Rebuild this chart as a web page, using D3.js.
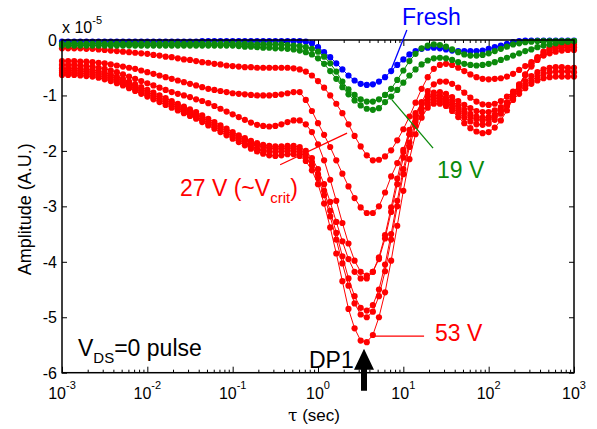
<!DOCTYPE html>
<html>
<head>
<meta charset="utf-8">
<script src="https://cdn.jsdelivr.net/npm/d3@7"></script>
<style>
  body { margin: 0; background: #fff; }
  text { font-family: "Liberation Sans", Arial, Helvetica, sans-serif; }
</style>
</head>
<body>
<svg id="chart" width="597" height="429"></svg>
<script>

// amplitudes in units of 1e-5, one value per tau sample (14 per decade, 1 ms .. 1000 s)
var fresh = [
  -0.03,-0.03,-0.03,-0.03,-0.03,-0.03,-0.03,-0.03,-0.03,-0.03,
  -0.03,-0.03,-0.03,-0.03,-0.03,-0.03,-0.03,-0.03,-0.03,-0.03,
  -0.03,-0.03,-0.03,-0.02,-0.02,-0.02,-0.02,-0.02,-0.02,-0.02,
  -0.02,-0.02,-0.02,-0.02,-0.02,-0.02,-0.02,-0.02,-0.02,-0.02,
  -0.03,-0.06,-0.13,-0.22,-0.31,-0.42,-0.53,-0.64,-0.73,-0.79,
  -0.81,-0.80,-0.75,-0.67,-0.56,-0.45,-0.35,-0.26,-0.20,-0.16,
  -0.14,-0.14,-0.15,-0.17,-0.19,-0.20,-0.20,-0.20,-0.20,-0.19,
  -0.16,-0.13,-0.10,-0.07,-0.04,-0.02,-0.01,-0.01,-0.01,-0.01,
  -0.01,-0.01,-0.01,-0.01,-0.01];

var green_a = [
  -0.07,-0.07,-0.06,-0.07,-0.07,-0.07,-0.06,-0.07,-0.07,-0.07,
  -0.07,-0.07,-0.07,-0.07,-0.07,-0.07,-0.07,-0.07,-0.07,-0.07,
  -0.07,-0.07,-0.07,-0.07,-0.07,-0.07,-0.07,-0.07,-0.07,-0.07,
  -0.07,-0.08,-0.08,-0.08,-0.08,-0.08,-0.08,-0.09,-0.10,-0.11,
  -0.13,-0.16,-0.21,-0.30,-0.42,-0.57,-0.75,-0.89,-0.99,-1.07,
  -1.11,-1.11,-1.07,-0.99,-0.88,-0.72,-0.55,-0.38,-0.25,-0.15,
  -0.10,-0.08,-0.09,-0.12,-0.17,-0.22,-0.26,-0.28,-0.28,-0.27,
  -0.24,-0.20,-0.16,-0.12,-0.08,-0.06,-0.04,-0.03,-0.02,-0.02,
  -0.02,-0.02,-0.02,-0.02,-0.02];

var green_b = [
  -0.10,-0.10,-0.10,-0.10,-0.10,-0.10,-0.10,-0.10,-0.10,-0.10,
  -0.10,-0.10,-0.10,-0.10,-0.10,-0.10,-0.10,-0.10,-0.10,-0.10,
  -0.10,-0.10,-0.10,-0.10,-0.10,-0.10,-0.10,-0.10,-0.10,-0.11,
  -0.12,-0.12,-0.13,-0.14,-0.14,-0.15,-0.15,-0.16,-0.17,-0.19,
  -0.22,-0.26,-0.33,-0.43,-0.56,-0.70,-0.85,-0.98,-1.09,-1.18,
  -1.24,-1.26,-1.23,-1.12,-1.02,-0.90,-0.77,-0.64,-0.53,-0.44,
  -0.37,-0.33,-0.32,-0.33,-0.36,-0.40,-0.43,-0.45,-0.46,-0.45,
  -0.43,-0.40,-0.36,-0.32,-0.28,-0.24,-0.20,-0.17,-0.13,-0.10,
  -0.08,-0.06,-0.04,-0.03,-0.02];

var red_a = [
  -0.15,-0.15,-0.15,-0.15,-0.16,-0.16,-0.17,-0.18,-0.19,-0.20,
  -0.21,-0.22,-0.23,-0.24,-0.25,-0.27,-0.28,-0.30,-0.31,-0.33,
  -0.35,-0.36,-0.38,-0.40,-0.41,-0.43,-0.44,-0.46,-0.47,-0.48,
  -0.49,-0.49,-0.50,-0.50,-0.50,-0.50,-0.50,-0.50,-0.51,-0.53,
  -0.57,-0.64,-0.74,-0.86,-1.00,-1.15,-1.32,-1.52,-1.73,-1.92,
  -2.08,-2.17,-2.16,-2.10,-1.99,-1.81,-1.61,-1.38,-1.13,-0.88,
  -0.67,-0.52,-0.45,-0.43,-0.45,-0.50,-0.56,-0.62,-0.67,-0.70,
  -0.71,-0.70,-0.69,-0.66,-0.61,-0.54,-0.47,-0.40,-0.33,-0.28,
  -0.24,-0.21,-0.19,-0.18,-0.18];

var red_b = [
  -0.38,-0.38,-0.38,-0.39,-0.39,-0.40,-0.41,-0.42,-0.44,-0.46,
  -0.48,-0.50,-0.52,-0.55,-0.58,-0.61,-0.64,-0.67,-0.70,-0.73,
  -0.76,-0.79,-0.82,-0.85,-0.88,-0.90,-0.92,-0.94,-0.96,-0.97,
  -0.98,-0.99,-1.00,-1.00,-1.00,-0.99,-0.98,-0.96,-0.94,-0.94,
  -1.08,-1.28,-1.50,-1.71,-1.93,-2.17,-2.41,-2.64,-2.85,-3.02,
  -3.12,-3.12,-3.00,-2.75,-2.46,-2.22,-1.98,-1.70,-1.40,-1.12,
  -0.92,-0.80,-0.75,-0.75,-0.79,-0.86,-0.95,-1.04,-1.11,-1.16,
  -1.17,-1.15,-1.10,-1.02,-0.93,-0.83,-0.74,-0.65,-0.58,-0.53,
  -0.50,-0.49,-0.49,-0.50,-0.50];

var red_c = [
  -0.45,-0.45,-0.45,-0.46,-0.47,-0.48,-0.50,-0.52,-0.55,-0.58,
  -0.62,-0.66,-0.70,-0.74,-0.78,-0.82,-0.86,-0.90,-0.94,-0.97,
  -1.00,-1.03,-1.07,-1.10,-1.14,-1.19,-1.24,-1.29,-1.34,-1.39,
  -1.44,-1.49,-1.53,-1.55,-1.56,-1.55,-1.52,-1.48,-1.45,-1.45,
  -1.52,-1.66,-1.88,-2.17,-2.52,-2.90,-3.30,-3.67,-3.98,-4.18,
  -4.25,-4.18,-3.95,-3.58,-3.10,-2.60,-2.12,-1.70,-1.37,-1.14,
  -1.00,-0.95,-0.94,-0.97,-1.03,-1.10,-1.17,-1.23,-1.28,-1.30,
  -1.30,-1.27,-1.21,-1.13,-1.03,-0.92,-0.82,-0.73,-0.66,-0.61,
  -0.58,-0.57,-0.57,-0.57,-0.58];

var red_d = [
  -0.51,-0.51,-0.51,-0.52,-0.53,-0.54,-0.56,-0.59,-0.62,-0.66,
  -0.70,-0.75,-0.80,-0.85,-0.90,-0.95,-1.00,-1.05,-1.10,-1.15,
  -1.20,-1.25,-1.30,-1.36,-1.42,-1.48,-1.54,-1.60,-1.66,-1.72,
  -1.77,-1.82,-1.86,-1.89,-1.91,-1.92,-1.92,-1.91,-1.91,-1.93,
  -2.00,-2.13,-2.33,-2.60,-2.92,-3.28,-3.63,-3.95,-4.18,-4.30,
  -4.30,-4.18,-3.92,-3.52,-3.02,-2.50,-2.02,-1.62,-1.32,-1.14,
  -1.04,-1.00,-1.00,-1.04,-1.10,-1.18,-1.26,-1.33,-1.38,-1.40,
  -1.39,-1.35,-1.28,-1.19,-1.08,-0.97,-0.87,-0.79,-0.73,-0.69,
  -0.67,-0.66,-0.66,-0.66,-0.66];

var red_e = [
  -0.55,-0.55,-0.55,-0.56,-0.57,-0.58,-0.60,-0.63,-0.66,-0.70,
  -0.74,-0.79,-0.84,-0.89,-0.94,-0.99,-1.04,-1.09,-1.14,-1.19,
  -1.24,-1.29,-1.34,-1.40,-1.46,-1.52,-1.58,-1.64,-1.70,-1.76,
  -1.81,-1.86,-1.90,-1.93,-1.95,-1.96,-1.96,-1.95,-1.95,-1.98,
  -2.06,-2.20,-2.42,-2.72,-3.08,-3.48,-3.90,-4.30,-4.62,-4.83,
  -4.88,-4.78,-4.50,-4.05,-3.50,-2.90,-2.33,-1.85,-1.48,-1.24,
  -1.10,-1.05,-1.05,-1.09,-1.16,-1.24,-1.32,-1.39,-1.43,-1.45,
  -1.43,-1.37,-1.27,-1.13,-0.97,-0.80,-0.63,-0.48,-0.36,-0.27,
  -0.20,-0.16,-0.14,-0.13,-0.13];

var red_f = [
  -0.59,-0.59,-0.59,-0.60,-0.61,-0.62,-0.64,-0.67,-0.70,-0.74,
  -0.78,-0.83,-0.88,-0.93,-0.98,-1.03,-1.08,-1.13,-1.18,-1.23,
  -1.28,-1.33,-1.38,-1.44,-1.50,-1.56,-1.62,-1.68,-1.74,-1.80,
  -1.86,-1.91,-1.96,-1.99,-2.01,-2.02,-2.01,-2.00,-2.00,-2.03,
  -2.11,-2.26,-2.49,-2.80,-3.18,-3.60,-4.03,-4.43,-4.75,-4.95,
  -5.00,-4.90,-4.62,-4.17,-3.60,-3.00,-2.42,-1.93,-1.55,-1.30,
  -1.16,-1.10,-1.10,-1.14,-1.22,-1.31,-1.40,-1.47,-1.52,-1.53,
  -1.51,-1.44,-1.33,-1.18,-1.00,-0.81,-0.62,-0.46,-0.33,-0.23,
  -0.16,-0.12,-0.10,-0.09,-0.08];

var red_g = [
  -0.63,-0.63,-0.63,-0.64,-0.65,-0.66,-0.68,-0.71,-0.74,-0.78,
  -0.82,-0.87,-0.92,-0.97,-1.02,-1.07,-1.12,-1.17,-1.22,-1.27,
  -1.32,-1.37,-1.42,-1.48,-1.54,-1.60,-1.66,-1.72,-1.78,-1.84,
  -1.90,-1.96,-2.01,-2.05,-2.08,-2.09,-2.08,-2.06,-2.06,-2.09,
  -2.18,-2.35,-2.60,-2.95,-3.38,-3.85,-4.35,-4.85,-5.20,-5.42,
  -5.45,-5.32,-5.00,-4.55,-3.98,-3.35,-2.72,-2.15,-1.70,-1.40,
  -1.22,-1.15,-1.15,-1.19,-1.28,-1.39,-1.50,-1.59,-1.65,-1.68,
  -1.66,-1.58,-1.45,-1.27,-1.06,-0.84,-0.63,-0.45,-0.31,-0.21,
  -0.14,-0.09,-0.06,-0.05,-0.04];

var x_decades = [1e-3, 1e-2, 1e-1, 1e0, 1e1, 1e2, 1e3];
var x_exponents = ['-3', '-2', '-1', '0', '1', '2', '3'];
var y_ticks = [0, -1, -2, -3, -4, -5, -6];

// sample grid of the time-constant spectrum
var samples_per_decade = 14;
var tau = d3.range(fresh.length).map(function(i) { return Math.pow(10, -3 + i / samples_per_decade); });

var series = [
  { name: 'red_a', values: red_a, color: '#ff0000' },
  { name: 'red_b', values: red_b, color: '#ff0000' },
  { name: 'red_c', values: red_c, color: '#ff0000' },
  { name: 'red_d', values: red_d, color: '#ff0000' },
  { name: 'red_e', values: red_e, color: '#ff0000' },
  { name: 'red_f', values: red_f, color: '#ff0000' },
  { name: 'red_g', values: red_g, color: '#ff0000' },
  { name: 'fresh', values: fresh, color: '#0000ff' },
  { name: 'green_b', values: green_b, color: '#0b8a0b' },
  { name: 'green_a', values: green_a, color: '#0b8a0b' }
];

var plot = { left: 62, right: 574, top: 40, bottom: 372.7 };

var svg = d3.select('#chart');

var x_scale = d3.scaleLog().domain([1e-3, 1e3]).range([plot.left, plot.right]);
var y_scale = d3.scaleLinear().domain([-6, 0]).range([plot.bottom, plot.top]);

// minor log ticks 2..9 in each decade
var x_minor = [];
x_decades.slice(0, -1).forEach(function(d) {
  d3.range(2, 10).forEach(function(k) { x_minor.push(d * k); });
});

function strip(g) {
  g.select('.domain').remove();
  g.selectAll('line').attr('stroke', '#000').attr('stroke-width', 1);
}

svg.append('g')
  .attr('transform', 'translate(0,' + plot.bottom + ')')
  .call(d3.axisBottom(x_scale).tickValues(x_decades).tickSize(-6).tickFormat(''))
  .call(strip);
svg.append('g')
  .attr('transform', 'translate(0,' + plot.bottom + ')')
  .call(d3.axisBottom(x_scale).tickValues(x_minor).tickSize(-3).tickFormat(''))
  .call(strip);
svg.append('g')
  .attr('transform', 'translate(0,' + plot.top + ')')
  .call(d3.axisTop(x_scale).tickValues(x_decades).tickSize(-6).tickFormat(''))
  .call(strip);
svg.append('g')
  .attr('transform', 'translate(0,' + plot.top + ')')
  .call(d3.axisTop(x_scale).tickValues(x_minor).tickSize(-3).tickFormat(''))
  .call(strip);
svg.append('g')
  .attr('transform', 'translate(' + plot.left + ',0)')
  .call(d3.axisLeft(y_scale).tickValues(y_ticks).tickSize(-5).tickFormat(''))
  .call(strip);
svg.append('g')
  .attr('transform', 'translate(' + plot.right + ',0)')
  .call(d3.axisRight(y_scale).tickValues(y_ticks).tickSize(-5).tickFormat(''))
  .call(strip);

// x tick labels as powers of ten
var x_labels = svg.append('g').selectAll('text')
  .data(x_decades)
  .enter()
  .append('text')
  .attr('x', function(d) { return x_scale(d); })
  .attr('y', 399)
  .attr('text-anchor', 'middle')
  .style('font-size', '16px');
x_labels.append('tspan').text('10');
x_labels.append('tspan')
  .attr('dy', -10)
  .style('font-size', '11px')
  .text(function(d, i) { return x_exponents[i]; });

svg.append('g').selectAll('text')
  .data(y_ticks)
  .enter()
  .append('text')
  .attr('x', 57)
  .attr('y', function(d) { return y_scale(d) + 6; })
  .attr('text-anchor', 'end')
  .style('font-size', '16px')
  .text(function(d) { return d === 0 ? '0' : '-' + Math.abs(d); });

// axis titles
svg.append('text')
  .attr('transform', 'translate(31,' + ((plot.top + plot.bottom) / 2 + 3) + ') rotate(-90)')
  .attr('text-anchor', 'middle')
  .style('font-size', '18px')
  .text('Amplitude (A.U.)');

var x_title = svg.append('text')
  .attr('x', (plot.left + plot.right) / 2 - 4)
  .attr('y', 421)
  .attr('text-anchor', 'middle')
  .style('font-size', '17px');
x_title.append('tspan').style('font-family', '"DejaVu Serif", serif').text('\u03c4');
x_title.append('tspan').text(' (sec)');

var mult = svg.append('text')
  .attr('x', plot.left)
  .attr('y', 33)
  .style('font-size', '16px');
mult.append('tspan').text('x 10');
mult.append('tspan').attr('dy', -9).style('font-size', '11px').text('-5');

// curves: thin connecting line plus dots
var line = d3.line()
  .x(function(d) { return x_scale(d[0]); })
  .y(function(d) { return y_scale(d[1]); });

var clip = svg.append('defs').append('clipPath').attr('id', 'plot_clip');
clip.append('rect')
  .attr('x', plot.left - 4).attr('y', plot.top - 4)
  .attr('width', plot.right - plot.left + 8).attr('height', plot.bottom - plot.top + 8);

var curves = svg.append('g').attr('clip-path', 'url(#plot_clip)');

series.forEach(function(s) {
  var pts = s.values.map(function(v, i) { return [tau[i], v]; });
  var g = curves.append('g').attr('class', s.name);
  g.append('path')
    .datum(pts)
    .attr('d', line)
    .attr('fill', 'none')
    .attr('stroke', s.color)
    .attr('stroke-width', 1);
  g.selectAll('circle')
    .data(pts)
    .enter()
    .append('circle')
    .attr('cx', function(d) { return x_scale(d[0]); })
    .attr('cy', function(d) { return y_scale(d[1]); })
    .attr('r', 3.1)
    .attr('fill', s.color);
});

// frame
svg.append('rect')
  .attr('x', plot.left)
  .attr('y', plot.top)
  .attr('width', plot.right - plot.left)
  .attr('height', plot.bottom - plot.top)
  .attr('fill', 'none')
  .attr('stroke', '#000')
  .attr('stroke-width', 1.5);

// annotations (positions in tau / amplitude units)
function leader(t1, a1, t2, a2, color) {
  svg.append('line')
    .attr('x1', x_scale(t1)).attr('y1', y_scale(a1))
    .attr('x2', x_scale(t2)).attr('y2', y_scale(a2))
    .attr('stroke', color)
    .attr('stroke-width', 1.3);
}

leader(11.0, 0.18, 7.0, -0.58, '#0000ff');
leader(0.36, -2.25, 2.19, -1.68, '#ff0000');
leader(7.36, -1.08, 22.3, -1.95, '#0b8a0b');
leader(4.53, -5.34, 17.5, -5.34, '#ff0000');

svg.append('text')
  .attr('x', 402).attr('y', 25)
  .style('font-size', '23px')
  .attr('fill', '#0000ff')
  .text('Fresh');

svg.append('text')
  .attr('x', 437).attr('y', 178)
  .style('font-size', '23px')
  .attr('fill', '#0b8a0b')
  .text('19 V');

var crit = svg.append('text')
  .attr('x', 180).attr('y', 196)
  .style('font-size', '23px')
  .attr('fill', '#ff0000');
crit.append('tspan').text('27 V (~V');
crit.append('tspan').attr('dy', 7).style('font-size', '15px').text('crit');
crit.append('tspan').attr('dy', -7).text(')');

svg.append('text')
  .attr('x', 435).attr('y', 341)
  .style('font-size', '23px')
  .attr('fill', '#ff0000')
  .text('53 V');

var pulse = svg.append('text')
  .attr('x', 78).attr('y', 356)
  .style('font-size', '23px')
  .attr('fill', '#000');
pulse.append('tspan').text('V');
pulse.append('tspan').attr('dy', 7).style('font-size', '15px').text('DS');
pulse.append('tspan').attr('dy', -7).text('=0 pulse');

svg.append('text')
  .attr('x', 309).attr('y', 368)
  .style('font-size', '23px')
  .attr('fill', '#000')
  .text('DP1');

// DP1 arrow, tip placed on the 53 V minimum time constant
var tip_x = x_scale(3.46);
var tip_y = y_scale(-5.57);
svg.append('path')
  .attr('d', 'M' + tip_x + ',' + tip_y +
    ' l10,21 l-7,0 l0,21 l-6,0 l0,-21 l-7,0 Z')
  .attr('fill', '#000');

</script>
</body>
</html>
